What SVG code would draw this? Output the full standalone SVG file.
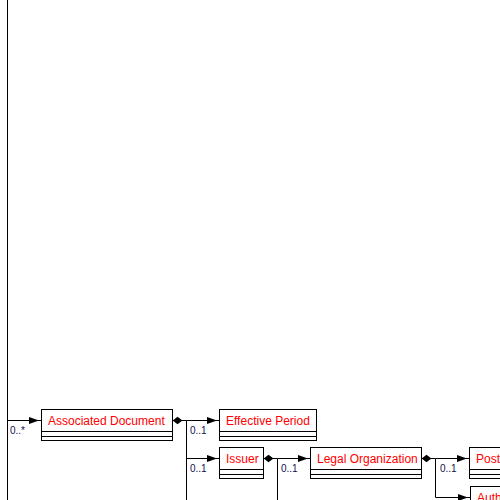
<svg xmlns="http://www.w3.org/2000/svg" width="500" height="500" viewBox="0 0 500 500">
  <style>
    .box { fill: #ffffff; stroke: #000000; stroke-width: 1; }
    .sep { stroke: #000000; stroke-width: 1; fill: none; }
    .name { font-family: "Liberation Sans", Arial, sans-serif; font-size: 12px; fill: #ff0000; }
    .card { font-family: "Liberation Sans", Arial, sans-serif; font-size: 10px; fill: #10104a; }
    .wire { stroke: #000000; stroke-width: 1; fill: none; }
  </style>
  <defs>
    <marker id="arrow" markerWidth="13" markerHeight="9" refX="12" refY="4.5" orient="auto" markerUnits="userSpaceOnUse">
      <path d="M0,1 L10,4.5 L0,8 Z M9,4 L13,4 L13,5 L9,5 Z" fill="#000000"/>
    </marker>
    <marker id="diamond" markerWidth="11" markerHeight="9" refX="0" refY="4.5" orient="auto" markerUnits="userSpaceOnUse">
      <path d="M0,4.5 L5,0.8 L10,4.5 L5,8.2 Z" fill="#000000"/>
    </marker>
  </defs>

  <rect width="500" height="500" fill="#ffffff"/>

  <g id="connectors">
    <line class="wire" x1="7.5" y1="0" x2="7.5" y2="500"/>
    <path class="wire" d="M7.5,420.5 H41" marker-end="url(#arrow)"/>
    <path class="wire" d="M172.5,420.5 H186.5 V500" marker-start="url(#diamond)"/>
    <path class="wire" d="M186.5,420.5 H219" marker-end="url(#arrow)"/>
    <path class="wire" d="M186.5,458.5 H219" marker-end="url(#arrow)"/>
    <path class="wire" d="M263.5,458.5 H277.5 V500" marker-start="url(#diamond)"/>
    <path class="wire" d="M277.5,458.5 H310" marker-end="url(#arrow)"/>
    <path class="wire" d="M421.5,458.5 H435.5 V497.5 H470" marker-start="url(#diamond)" marker-end="url(#arrow)"/>
    <path class="wire" d="M435.5,458.5 H469" marker-end="url(#arrow)"/>
    <text class="card" x="10" y="434">0..*</text>
    <text class="card" x="190" y="434">0..1</text>
    <text class="card" x="190" y="472">0..1</text>
    <text class="card" x="281" y="472">0..1</text>
    <text class="card" x="440" y="472">0..1</text>
  </g>

  <g id="associated-document">
    <rect class="box" x="41.5" y="409.5" width="131" height="31"/>
    <path class="sep" d="M41.5,431.5 H172.5 M41.5,436.5 H172.5"/>
    <text class="name" x="48" y="425">Associated Document</text>
  </g>

  <g id="effective-period">
    <rect class="box" x="219.5" y="409.5" width="97" height="31"/>
    <path class="sep" d="M219.5,431.5 H316.5 M219.5,436.5 H316.5"/>
    <text class="name" x="226" y="425">Effective Period</text>
  </g>

  <g id="issuer">
    <rect class="box" x="219.5" y="447.5" width="44" height="31"/>
    <path class="sep" d="M219.5,469.5 H263.5 M219.5,474.5 H263.5"/>
    <text class="name" x="226" y="463">Issuer</text>
  </g>

  <g id="legal-organization">
    <rect class="box" x="310.5" y="447.5" width="111" height="31"/>
    <path class="sep" d="M310.5,469.5 H421.5 M310.5,474.5 H421.5"/>
    <text class="name" x="317" y="463">Legal Organization</text>
  </g>

  <g id="postal">
    <rect class="box" x="469.5" y="447.5" width="60" height="31"/>
    <path class="sep" d="M469.5,469.5 H529.5 M469.5,474.5 H529.5"/>
    <text class="name" x="476" y="463">Postal</text>
  </g>

  <g id="auth">
    <rect class="box" x="470.5" y="486.5" width="60" height="31"/>
    <text class="name" x="477" y="502">Auth</text>
  </g>
</svg>
